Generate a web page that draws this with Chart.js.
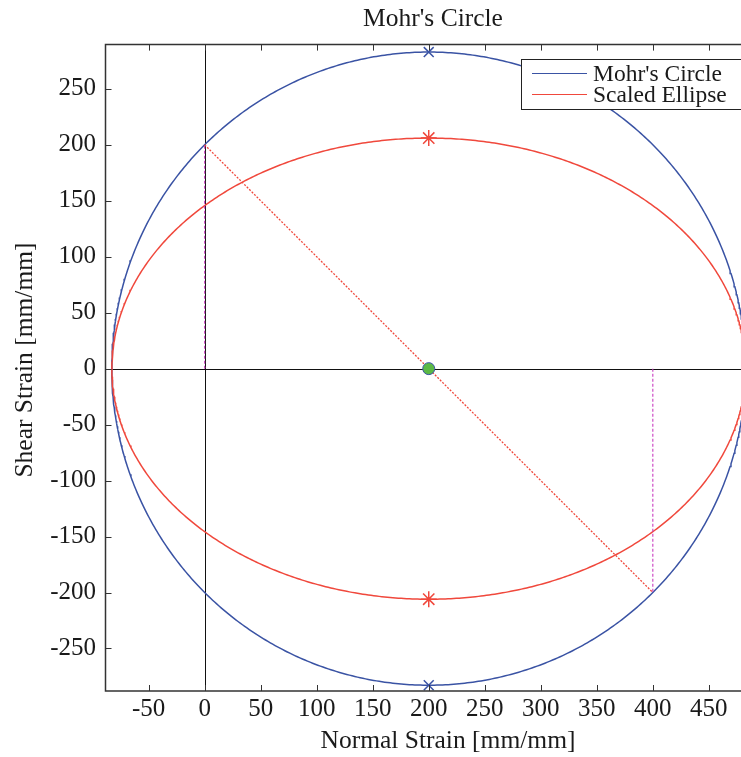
<!DOCTYPE html>
<html>
<head>
<meta charset="utf-8">
<script src="https://cdn.jsdelivr.net/npm/chart.js@4/dist/chart.umd.min.js"></script>
<style>
  html, body { margin: 0; padding: 0; background: #fff; overflow: hidden; }
  canvas { display: block; }
</style>
</head>
<body>
<canvas id="mohr" width="741" height="757"></canvas>
<script>
// Strain state: the two plotted strain points, the circle centre and the ellipse half-height
const strainPointA = [0, 200];
const strainPointB = [400, -200];
const circleCenter = [200, 0];
const ellipseHalfHeight = 206;

// Axis ticks and visible ranges
const xTickValues = [-50, 0, 50, 100, 150, 200, 250, 300, 350, 400, 450];
const yTickValues = [-250, -200, -150, -100, -50, 0, 50, 100, 150, 200, 250];
const xRange = [-88.5, 478.7];
const yRange = [-288, 289.5];

const seriesNames = ["Mohr's Circle", 'Scaled Ellipse'];
const xAxisTitle = 'Normal Strain [mm/mm]';
const yAxisTitle = 'Shear Strain [mm/mm]';

const BLUE = '#3a53a4';
const RED = '#f0483c';
const MAGENTA = '#c83cc0';
const GREEN = '#5cb946';
const TEXT = '#1a1a1a';
const FONT = "'Liberation Serif', 'Times New Roman', serif";

const radius = Math.hypot(strainPointA[0] - circleCenter[0], strainPointA[1] - circleCenter[1]);

// Sample an ellipse (circle when rx == ry) around the centre
function ellipsePath(rx, ry, steps) {
  const pts = [];
  for (let i = 0; i <= steps; i++) {
    const t = (i / steps) * 2 * Math.PI;
    pts.push({ x: circleCenter[0] + rx * Math.cos(t), y: circleCenter[1] + ry * Math.sin(t) });
  }
  return pts;
}

const circlePts = ellipsePath(radius, radius, 720);
const ellipsePts = ellipsePath(radius, ellipseHalfHeight, 720);

const diagonal = [
  { x: strainPointA[0], y: strainPointA[1] },
  { x: strainPointB[0], y: strainPointB[1] }
];
const projections = [
  { x: strainPointA[0], y: 0 }, { x: strainPointA[0], y: strainPointA[1] },
  { x: NaN, y: NaN },
  { x: strainPointB[0], y: 0 }, { x: strainPointB[0], y: strainPointB[1] }
];

// Zero axes lines, frame with inward ticks, axis titles and the legend box
const decorations = {
  id: 'decorations',
  afterLayout(chart) {
    // centre the title over the (wider, partly off-canvas) axes box
    const tb = chart.titleBlock;
    if (tb) { tb.left = 125; tb.right = chart.width; }
  },
  beforeDatasetsDraw(chart) {
    const { ctx, chartArea: a, scales: { x, y } } = chart;
    ctx.save();
    ctx.strokeStyle = '#111';
    ctx.lineWidth = 1;
    const x0 = Math.round(x.getPixelForValue(0)) + 0.5;
    const y0 = Math.round(y.getPixelForValue(0)) + 0.5;
    ctx.beginPath();
    ctx.moveTo(x0, a.top); ctx.lineTo(x0, a.bottom);
    ctx.moveTo(a.left, y0); ctx.lineTo(a.right, y0);
    ctx.stroke();
    ctx.restore();
  },
  afterDraw(chart) {
    const { ctx, chartArea: a, scales: { x, y } } = chart;
    ctx.save();
    ctx.strokeStyle = '#333';
    ctx.lineWidth = 1.5;
    ctx.beginPath();
    ctx.moveTo(a.right + 2, a.top); ctx.lineTo(a.left, a.top);
    ctx.lineTo(a.left, a.bottom); ctx.lineTo(a.right + 2, a.bottom);
    ctx.stroke();
    const tl = 6;
    ctx.lineWidth = 1;
    ctx.beginPath();
    x.ticks.forEach(t => {
      const px = Math.round(x.getPixelForValue(t.value)) + 0.5;
      ctx.moveTo(px, a.bottom); ctx.lineTo(px, a.bottom - tl);
      ctx.moveTo(px, a.top); ctx.lineTo(px, a.top + tl);
    });
    y.ticks.forEach(t => {
      const py = Math.round(y.getPixelForValue(t.value)) + 0.5;
      ctx.moveTo(a.left, py); ctx.lineTo(a.left + tl, py);
    });
    ctx.stroke();

    // axis titles
    ctx.fillStyle = TEXT;
    ctx.font = '25.5px ' + FONT;
    ctx.textAlign = 'center';
    ctx.textBaseline = 'middle';
    ctx.fillText(xAxisTitle, 448, 741);
    ctx.save();
    ctx.translate(25, 360);
    ctx.rotate(-Math.PI / 2);
    ctx.fillText(yAxisTitle, 0, 0);
    ctx.restore();

    // legend
    const bx = 521.5, by = 59.5, bw = 220, bh = 50;
    ctx.fillStyle = '#fff';
    ctx.fillRect(bx, by, bw, bh);
    ctx.strokeStyle = '#222';
    ctx.lineWidth = 1;
    ctx.strokeRect(bx, by, bw, bh);
    ctx.font = '23.5px ' + FONT;
    ctx.textBaseline = 'middle';
    ctx.textAlign = 'left';
    const rows = [73.5, 94.5];
    chart.data.datasets.slice(0, 2).forEach((ds, i) => {
      ctx.strokeStyle = ds.borderColor;
      ctx.lineWidth = 1.2;
      ctx.beginPath();
      ctx.moveTo(532, rows[i]); ctx.lineTo(587, rows[i]);
      ctx.stroke();
      ctx.fillStyle = TEXT;
      ctx.fillText(ds.label, 593, rows[i] + 1);
    });
    ctx.restore();
  }
};

new Chart(document.getElementById('mohr'), {
  type: 'scatter',
  data: {
    datasets: [
      { label: seriesNames[0], data: circlePts, showLine: true, borderColor: BLUE, borderWidth: 1.5, pointRadius: 0, order: 5 },
      { label: seriesNames[1], data: ellipsePts, showLine: true, borderColor: RED, borderWidth: 1.5, pointRadius: 0, order: 4 },
      { label: 'projections', data: projections, showLine: true, spanGaps: false, borderColor: MAGENTA, borderWidth: 1.1, borderDash: [3, 2], pointRadius: 0, order: 3 },
      { label: 'diagonal', data: diagonal, showLine: true, borderColor: RED, borderWidth: 1.3, borderDash: [2, 1.5], pointRadius: 0, order: 2 },
      { label: 'ellipse extremes', data: [{ x: circleCenter[0], y: ellipseHalfHeight }, { x: circleCenter[0], y: -ellipseHalfHeight }],
        pointStyle: 'star', pointRadius: 8, borderColor: RED, backgroundColor: RED, borderWidth: 1.5, order: 1 },
      { label: 'circle extremes', data: [{ x: circleCenter[0], y: radius }, { x: circleCenter[0], y: -radius }],
        pointStyle: 'crossRot', pointRadius: 7, borderColor: BLUE, backgroundColor: BLUE, borderWidth: 1.5, order: 1 },
      { label: 'centre', data: [{ x: circleCenter[0], y: circleCenter[1] }],
        pointStyle: 'circle', pointRadius: 6, borderColor: BLUE, backgroundColor: GREEN, borderWidth: 1, order: 0 }
    ]
  },
  options: {
    responsive: false,
    animation: false,
    layout: { padding: 0, autoPadding: false },
    plugins: {
      legend: { display: false },
      tooltip: { enabled: false },
      title: {
        display: true,
        text: "Mohr's Circle",
        color: TEXT,
        font: { family: FONT, size: 25.5, weight: 'normal' },
        padding: { top: 4, bottom: 10 }
      }
    },
    scales: {
      x: {
        type: 'linear',
        min: xRange[0],
        max: xRange[1],
        afterBuildTicks(scale) { scale.ticks = xTickValues.map(v => ({ value: v })); },
        afterFit(scale) { scale.height = 66; scale.paddingLeft = 0; scale.paddingRight = 0; },
        grid: { display: false, drawTicks: false },
        border: { display: false },
        ticks: { color: TEXT, font: { family: FONT, size: 25 }, padding: 3, maxRotation: 0, autoSkip: false },
        title: { display: false }
      },
      y: {
        type: 'linear',
        min: yRange[0],
        max: yRange[1],
        afterBuildTicks(scale) { scale.ticks = yTickValues.map(v => ({ value: v })); },
        afterFit(scale) { scale.width = 105.5; scale.paddingTop = 0; scale.paddingBottom = 0; },
        grid: { display: false, drawTicks: false },
        border: { display: false },
        ticks: { color: TEXT, font: { family: FONT, size: 25 }, padding: 9.5, autoSkip: false },
        title: { display: false }
      }
    }
  },
  plugins: [decorations]
});
</script>
</body>
</html>
